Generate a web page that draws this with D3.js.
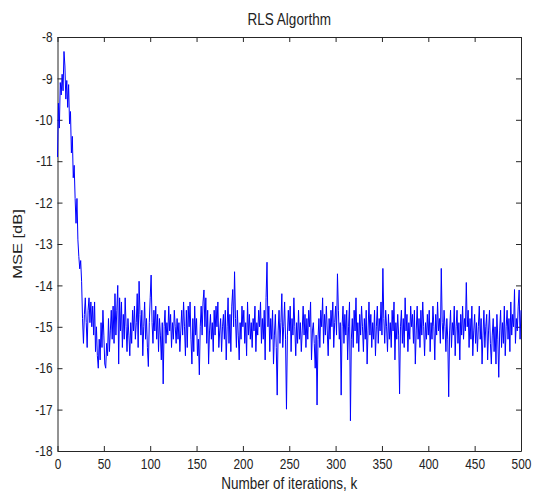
<!DOCTYPE html>
<html>
<head>
<meta charset="utf-8">
<script src="https://cdn.jsdelivr.net/npm/d3@7"></script>
<style>
  body { margin: 0; background: #fff; }
  text { font-family: "Liberation Sans", Arial, sans-serif; fill: #222; }
</style>
</head>
<body>
<div id="chart"></div>
<script>
// Chart text
const titleText = "RLS Algorthm";
const xLabel = "Number of iterations, k";
const yLabel = "MSE [dB]";

// Tick values
const xTicks = [0, 50, 100, 150, 200, 250, 300, 350, 400, 450, 500];
const yTicks = [-18, -17, -16, -15, -14, -13, -12, -11, -10, -9, -8];

// MSE (dB), one value per iteration k = 0..500
const mse = [
  -10.9, -9.6, -10.2, -9.1, -9.4, -8.9, -9.3, -8.35, -8.7, -9.5,      // 0
  -9.05, -9.7, -9.15, -10.1, -9.8, -10.8, -10.4, -11.4, -11.1, -11.9, // 10
  -12.5, -11.9, -12.9, -13.3, -13.6, -13.4, -13.9, -14.8, -15.4, -14.7, // 20
  -14.3, -14.9, -15.5, -14.6, -14.3, -14.9, -14.4, -15.0, -14.5, -15.2, // 30
  -14.4, -15.6, -15.0, -15.7, -16.0, -15.3, -15.8, -14.9, -15.5, -14.6,
  -15.2, -15.9, -16.0, -15.4, -15.7, -14.8, -15.6, -15.1, -14.6, -15.3, // 50
  -14.5, -15.4, -14.2, -15.2, -14.6, -14.0, -15.9, -14.3, -15.1, -14.4,
  -15.5, -14.7, -15.3, -14.3, -15.0, -15.6, -14.8, -15.2, -15.7, -14.9, // 70
  -15.4, -14.6, -15.1, -14.5, -15.3, -14.9, -14.2, -15.5, -13.9, -14.7,
  -15.2, -14.6, -15.7, -15.0, -14.4, -15.3, -14.8, -15.5, -15.96, -14.9, // 90
  -14.3, -13.75, -14.9, -15.4, -14.6, -15.1, -14.5, -15.3, -14.7, -15.6,
  -14.8, -15.2, -15.8, -14.9, -16.38, -15.0, -14.6, -15.4, -14.9, -15.2, // 110
  -14.5, -15.1, -14.7, -15.5, -14.9, -15.3, -14.6, -15.0, -15.4, -14.8,
  -15.3, -14.9, -15.6, -15.1, -14.6, -15.2, -14.4, -15.0, -15.7, -14.6, // 130
  -15.5, -14.5, -15.0, -14.4, -15.3, -15.9, -14.8, -15.6, -14.5, -15.2,
  -14.8, -15.7, -15.3, -16.16, -15.0, -14.5, -15.2, -14.4, -14.11, -15.0, // 150
  -14.3, -15.4, -14.6, -15.9, -15.1, -14.7, -15.3, -14.9, -15.6, -14.6,
  -15.2, -14.5, -15.0, -14.4, -15.5, -15.1, -14.8, -15.6, -15.0, -14.7, // 170
  -15.3, -14.6, -15.8, -15.0, -14.3, -15.4, -14.7, -15.6, -14.5, -14.1,
  -15.0, -13.67, -14.8, -15.5, -14.6, -15.2, -15.8, -14.9, -15.3, -14.5, // 190
  -15.0, -14.6, -15.4, -14.9, -15.7, -14.4, -15.2, -14.7, -15.3, -14.9,
  -15.5, -14.8, -15.1, -14.5, -15.6, -14.9, -15.2, -14.6, -15.0, -14.4, // 210
  -15.4, -14.8, -15.3, -14.6, -15.8, -14.3, -13.44, -15.0, -14.5, -15.6,
  -14.8, -15.3, -14.6, -15.9, -15.2, -14.7, -15.5, -16.65, -15.1, -14.6, // 230
  -15.4, -14.9, -14.2, -15.5, -15.0, -14.4, -15.3, -16.99, -15.2, -14.6,
  -15.1, -14.5, -15.6, -14.8, -15.2, -14.3, -15.0, -15.7, -14.9, -15.4, // 250
  -14.6, -15.3, -14.9, -15.6, -15.1, -14.5, -15.2, -14.7, -15.5, -14.8,
  -15.3, -14.6, -15.0, -14.4, -15.8, -15.1, -14.9, -15.4, -16.0, -15.2, // 270
  -16.89, -15.3, -14.8, -15.5, -14.6, -15.0, -14.3, -15.4, -14.7, -15.2,
  -14.5, -15.1, -15.7, -14.8, -15.3, -14.6, -15.0, -14.4, -15.5, -14.9, // 290
  -14.5, -15.2, -13.72, -14.6, -15.3, -14.9, -16.65, -15.0, -14.5, -15.4,
  -14.7, -15.2, -14.6, -15.8, -15.0, -14.4, -17.27, -15.3, -14.8, -15.5, // 310
  -14.6, -15.1, -14.3, -15.4, -14.9, -15.6, -14.7, -15.2, -14.5, -15.0,
  -15.6, -14.8, -15.3, -14.6, -15.9, -15.1, -14.4, -15.2, -14.7, -15.5, // 330
  -14.9, -15.3, -14.6, -15.7, -15.0, -14.5, -15.4, -14.8, -15.1, -14.4,
  -15.2, -13.59, -14.8, -15.4, -14.6, -15.0, -15.6, -14.7, -15.3, -14.9, // 350
  -15.5, -14.6, -15.1, -14.4, -15.8, -14.9, -15.3, -14.7, -15.2, -16.62,
  -15.0, -14.6, -15.4, -14.8, -15.5, -14.3, -15.1, -14.7, -15.6, -14.9, // 370
  -15.3, -14.5, -15.0, -14.7, -15.4, -14.6, -15.9, -15.1, -14.5, -15.3,
  -14.8, -15.5, -14.6, -15.2, -14.4, -15.0, -15.7, -14.9, -15.3, -14.7, // 390
  -15.2, -14.6, -15.6, -14.9, -15.3, -14.5, -15.0, -15.8, -14.7, -15.2,
  -14.4, -15.1, -14.8, -15.4, -13.59, -14.9, -15.3, -14.6, -15.0, -15.6, // 410
  -14.8, -15.3, -16.69, -15.1, -14.6, -15.5, -14.9, -15.2, -14.5, -15.7,
  -15.0, -14.6, -15.4, -14.9, -15.8, -14.7, -15.2, -14.5, -15.3, -14.8, // 430
  -15.1, -13.93, -15.0, -14.6, -15.5, -14.8, -15.3, -14.5, -15.7, -15.1,
  -14.7, -15.4, -14.9, -15.6, -15.0, -14.5, -15.3, -14.8, -15.9, -15.2, // 450
  -14.6, -15.5, -15.0, -14.7, -15.8, -15.1, -14.6, -15.4, -15.9, -15.2,
  -14.8, -15.6, -15.0, -15.9, -14.7, -15.3, -16.22, -15.1, -14.6, -15.5, // 470
  -14.9, -15.4, -14.5, -15.7, -15.0, -14.6, -15.3, -14.8, -15.6, -14.4,
  -15.2, -14.7, -15.0, -14.1, -15.4, -14.8, -15.1, -14.5, -14.11, -15.3, // 490
  -14.6                                                                 // 500
];

// Canvas and plot box (MATLAB style)
const W = 533, H = 493;
const margin = { top: 37, right: 12, bottom: 42, left: 57.5 };
const width = W - margin.left - margin.right;
const height = H - margin.top - margin.bottom;
const squeeze = 0.82; // the reference text is narrow

const svg = d3.select("#chart")
  .append("svg")
  .attr("width", W)
  .attr("height", H);

const g = svg.append("g")
  .attr("transform", `translate(${margin.left},${margin.top})`);

// Scales
const x = d3.scaleLinear().domain([0, 500]).range([0, width]);
const y = d3.scaleLinear().domain([-18, -8]).range([height, 0]);

// Axes with inward ticks on all four sides
const axisColor = "#262626";

const xAxis = g.append("g")
  .attr("transform", `translate(0,${height})`)
  .call(d3.axisBottom(x).tickValues(xTicks).tickFormat(d => String(d))
    .tickSizeInner(-5).tickSizeOuter(0).tickPadding(8));

const yAxis = g.append("g")
  .call(d3.axisLeft(y).tickValues(yTicks).tickFormat(d => String(d))
    .tickSizeInner(-5).tickSizeOuter(0).tickPadding(5));

const topAxis = g.append("g")
  .call(d3.axisTop(x).tickValues(xTicks).tickFormat("")
    .tickSizeInner(-5).tickSizeOuter(0));

const rightAxis = g.append("g")
  .attr("transform", `translate(${width},0)`)
  .call(d3.axisRight(y).tickValues(yTicks).tickFormat("")
    .tickSizeInner(-5).tickSizeOuter(0));

[xAxis, yAxis, topAxis, rightAxis].forEach(a => {
  a.selectAll("path, line").attr("stroke", axisColor).attr("stroke-width", 1);
  a.selectAll("text")
    .attr("font-size", 14.5)
    .attr("font-family", null)
    .attr("fill", "#222");
});

// narrow the tick labels around their anchor point
xAxis.selectAll("text").attr("transform", `scale(${squeeze},1)`);
yAxis.selectAll("text")
  .attr("x", -5 / squeeze)
  .attr("transform", `scale(${squeeze},1)`);

// MSE curve
const line = d3.line()
  .x((d, i) => x(i))
  .y(d => y(d));

g.append("path")
  .datum(mse)
  .attr("fill", "none")
  .attr("stroke", "#0000ff")
  .attr("stroke-width", 1)
  .attr("d", line);

// Title and axis labels
svg.append("text")
  .attr("transform", `translate(${margin.left + width / 2},25) scale(${squeeze},1)`)
  .attr("text-anchor", "middle")
  .attr("font-size", 16.5)
  .text(titleText);

svg.append("text")
  .attr("transform", `translate(${margin.left + width / 2},489) scale(${squeeze},1)`)
  .attr("text-anchor", "middle")
  .attr("font-size", 16.5)
  .text(xLabel);

svg.append("text")
  .attr("transform", `translate(22,${margin.top + height / 2}) rotate(-90) scale(1,${squeeze})`)
  .attr("text-anchor", "middle")
  .attr("font-size", 16.5)
  .text(yLabel);
</script>
</body>
</html>
